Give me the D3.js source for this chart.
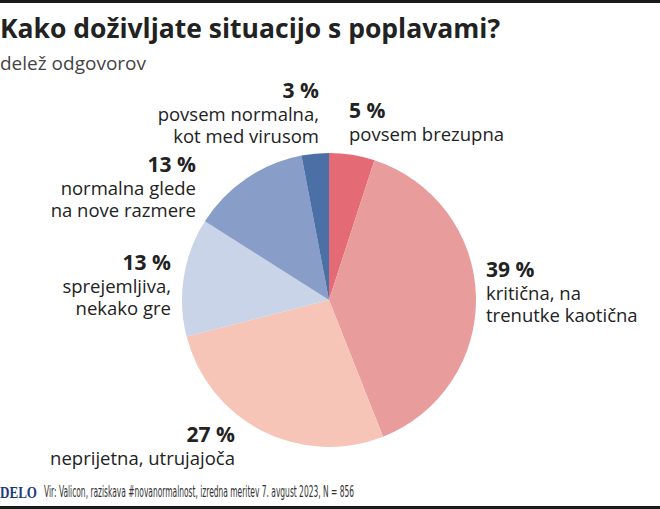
<!DOCTYPE html>
<html>
<head>
<meta charset="utf-8">
<script src="https://cdn.jsdelivr.net/npm/d3@7"></script>
<style>
  html, body { margin: 0; padding: 0; background: #fff; }
  svg { display: block; }
</style>
</head>
<body>
<div id="chart"></div>
<script>
const categories = [
  "povsem brezupna",
  "kritična, na trenutke kaotična",
  "neprijetna, utrujajoča",
  "sprejemljiva, nekako gre",
  "normalna glede na nove razmere",
  "povsem normalna, kot med virusom"
];
const values = [5, 39, 27, 13, 13, 3];
const labelLines = [
  ["povsem brezupna"],
  ["kritična, na", "trenutke kaotična"],
  ["neprijetna, utrujajoča"],
  ["sprejemljiva,", "nekako gre"],
  ["normalna glede", "na nove razmere"],
  ["povsem normalna,", "kot med virusom"]
];
const colors = ["#e46b76", "#e99c9c", "#f7c4b8", "#cad4e9", "#889dc7", "#4a70a6"];

// hand placed label anchors (x, baseline of the % line, anchor)
const labelPos = [
  { x: 349, y: 118, anchor: "start" },
  { x: 486, y: 277, anchor: "start" },
  { x: 235, y: 442, anchor: "end" },
  { x: 171, y: 270, anchor: "end" },
  { x: 196, y: 172, anchor: "end" },
  { x: 319, y: 98, anchor: "end" }
];

const width = 660, height = 509;
const cx = 329, cy = 300, radius = 147;

const svg = d3.select("#chart").append("svg")
  .attr("width", width)
  .attr("height", height);

svg.append("rect").attr("x", 0).attr("y", 0).attr("width", width).attr("height", 3).attr("fill", "#1a1a1a");
svg.append("rect").attr("x", 0).attr("y", height - 3).attr("width", width).attr("height", 3).attr("fill", "#1a1a1a");

svg.append("text")
  .attr("x", 0).attr("y", 38)
  .attr("font-family", "'Open Sans', sans-serif")
  .attr("font-weight", 700)
  .attr("font-size", 26.5)
  .attr("fill", "#222")
  .text("Kako doživljate situacijo s poplavami?");

svg.append("text")
  .attr("x", 0).attr("y", 70)
  .attr("font-family", "'Open Sans', sans-serif")
  .attr("font-size", 19)
  .attr("fill", "#444")
  .text("delež odgovorov");

const pie = d3.pie().sort(null).value(d => d)(values);
const arc = d3.arc().innerRadius(0).outerRadius(radius);

const g = svg.append("g").attr("transform", `translate(${cx},${cy})`);
g.selectAll("path")
  .data(pie)
  .join("path")
  .attr("d", arc)
  .attr("fill", (d, i) => colors[i]);

const labels = svg.append("g")
  .attr("font-family", "'Open Sans', sans-serif")
  .attr("fill", "#222");

labelPos.forEach((p, i) => {
  labels.append("text")
    .attr("text-anchor", p.anchor)
    .attr("x", p.x).attr("y", p.y)
    .attr("font-weight", 700)
    .attr("font-size", 21)
    .text(values[i] + " %");
  labelLines[i].forEach((line, j) => {
    labels.append("text")
      .attr("text-anchor", p.anchor)
      .attr("x", p.x).attr("y", p.y + 23 + j * 21.5)
      .attr("font-size", 18.5)
      .text(line);
  });
});

svg.append("text")
  .attr("x", 0).attr("y", 498)
  .attr("font-family", "'Liberation Serif', serif")
  .attr("font-weight", 700)
  .attr("font-size", 16.5)
  .attr("textLength", 37)
  .attr("lengthAdjust", "spacingAndGlyphs")
  .attr("fill", "#1d3a78")
  .text("DELO");

svg.append("text")
  .attr("x", 44).attr("y", 497)
  .attr("font-family", "'DejaVu Sans Condensed', 'DejaVu Sans', sans-serif")
  .attr("font-size", 15)
  .attr("textLength", 310)
  .attr("lengthAdjust", "spacingAndGlyphs")
  .attr("fill", "#333")
  .text("Vir: Valicon, raziskava #novanormalnost, izredna meritev 7. avgust 2023, N = 856");
</script>
</body>
</html>
